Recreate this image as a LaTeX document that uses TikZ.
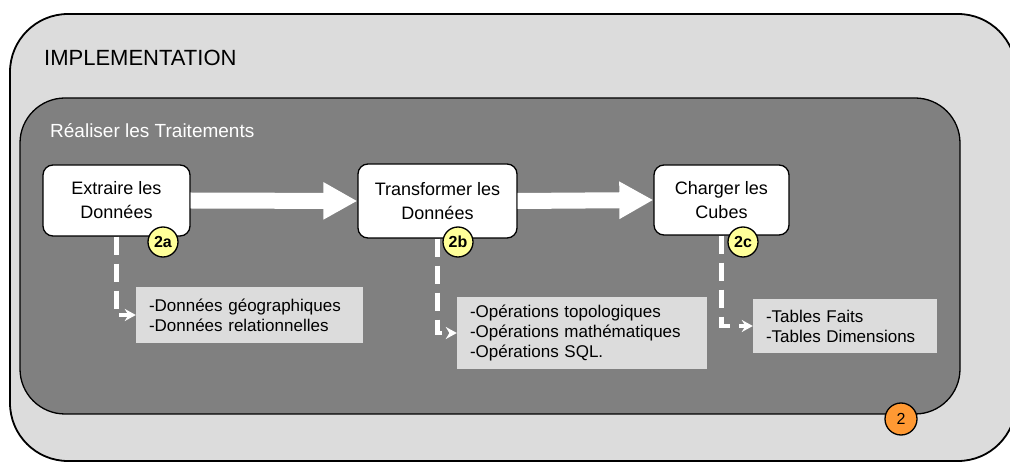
\documentclass[tikz,border=0pt]{standalone}
\usepackage{fontspec}
\setmainfont{Liberation Sans}
\usetikzlibrary{arrows.meta}
\definecolor{panel}{HTML}{DCDCDC}
\definecolor{fond}{HTML}{808080}
\definecolor{jaune}{HTML}{FFFF99}
\definecolor{orange2}{HTML}{FF9933}
\begin{document}
\begin{tikzpicture}[x=1pt,y=-1pt,
  tache/.style={draw,line width=1.3pt,fill=white,rounded corners=10pt,align=center,inner sep=2pt,
    font=\fontsize{18}{24}\selectfont},
  liste/.style={fill=panel,align=left,inner xsep=13pt,inner ysep=4pt,font=\fontsize{17}{20}\selectfont},
  pastille/.style={circle,draw,line width=1.3pt,minimum size=30pt,inner sep=0pt,fill=jaune,
    font=\fontsize{16}{16}\selectfont\bfseries},
  flux/.style={white,line width=16pt,-{Triangle[length=34pt,width=35pt]}},
  lien/.style={white,line width=4.5pt,dash pattern=on 18pt off 9pt,-{Stealth[length=11pt,width=12pt]}}]
  \useasboundingbox (0,0) rectangle (1010,462);
  \draw[line width=1.8pt,fill=panel,rounded corners=58pt] (10,14) rectangle (1016,461);
  \draw[line width=1.3pt,fill=fond,rounded corners=45pt] (20,98) rectangle (960,414);
  \node[anchor=west,inner sep=0pt,font=\fontsize{22}{22}\selectfont] (titre) at (44,58) {IMPLEMENTATION};
  \node[anchor=west,inner sep=0pt,text=white,font=\fontsize{19}{19}\selectfont] (phase) at (50,131) {Réaliser les Traitements};
  \node[tache,minimum width=147pt,minimum height=71pt] (extr) at (116.5,200.5) {Extraire les\\Données};
  \node[tache,minimum width=159pt,minimum height=74pt] (trans) at (437.5,201) {Transformer les\\Données};
  \node[tache,minimum width=135pt,minimum height=70pt] (charg) at (721.5,200) {Charger les\\Cubes};
  \node[liste,text width=201pt,minimum height=56pt] (src) at (249.5,315)
    {-Données géographiques\\-Données relationnelles};
  \node[liste,text width=224pt,minimum height=72pt] (ops) at (582,333)
    {-Opérations topologiques\\-Opérations mathématiques\\-Opérations SQL.};
  \node[liste,text width=158pt,minimum height=54pt] (tab) at (845,326)
    {-Tables Faits\\-Tables Dimensions};
  \draw[flux] (extr.east) -- (trans.west);
  \draw[flux] (trans.east) -- (charg.west);
  \draw[lien] (extr.south) |- (src.west);
  \draw[lien] (trans.south) |- (ops.west);
  \draw[lien] (charg.south) |- (tab.west);
  \node[pastille] (p2a) at (163,242) {2a};
  \node[pastille] (p2b) at (458,242) {2b};
  \node[pastille] (p2c) at (743,242) {2c};
  \node[pastille,fill=orange2,minimum size=32pt,font=\fontsize{16}{16}\selectfont] (p2) at (901,419) {2};
\end{tikzpicture}
\end{document}
